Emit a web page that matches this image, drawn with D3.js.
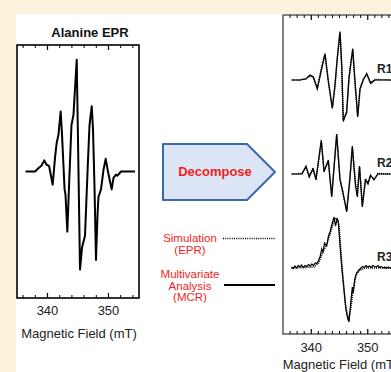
<!DOCTYPE html>
<html>
<head>
<meta charset="utf-8">
<script src="https://cdn.jsdelivr.net/npm/d3@7"></script>
<style>
html, body { margin: 0; padding: 0; background: #fdf3dc; }
svg { display: block; font-family: Arial, "Liberation Sans", sans-serif; }
</style>
</head>
<body>
<div id="container"></div>
<script>
// left panel: alanine EPR spectrum (field in mT, relative signal)
const alanineField = [336.4, 337.95, 338.6, 339.0, 339.48, 339.84, 340.25, 340.85, 341.23, 341.5, 341.8, 342.16, 342.38, 342.8, 342.95, 343.25, 343.6, 343.93, 344.26, 344.79, 345.0, 345.33, 345.66, 346.15, 346.64, 346.89, 347.25, 347.46, 347.7, 347.95, 348.2, 348.36, 348.77, 349.18, 349.54, 349.92, 350.52, 350.82, 351.23, 351.48, 352.05, 354.34]
const alanineSignal = [0, 0, 0.035, 0.054, 0.106, 0.064, 0.054, -0.126, 0.13, 0.27, 0.35, 0.57, 0.35, -0.17, -0.22, -0.57, -0.03, 0.44, 0.54, 1.06, 0.30, -0.93, -0.72, -0.61, 0.11, 0.44, 0.62, 0.40, -0.13, -0.84, -0.41, -0.24, -0.17, 0.016, 0.12, -0.003, -0.17, -0.06, -0.03, -0.04, 0, 0]

// right panel: decomposed components R1..R3
const r1Field = [336.54, 338.0, 339.07, 339.78, 340.36, 341.07, 341.85, 342.43, 343.02, 343.73, 344.2, 344.61, 345.09, 345.39, 345.67, 346.27, 346.68, 346.98, 347.34, 347.74, 348.22, 348.63, 349.21, 349.81, 350.52, 351.28, 354.11]
const r1Mcr = [0, 0, 0.02, 0.10, 0.066, -0.18, 0.23, 0.53, -0.03, -0.57, -0.10, 0.43, 0.97, 0.30, -0.83, -0.63, 0.03, 0.30, 0.63, -0.03, -0.74, -0.17, 0, 0.13, -0.07, 0, 0]
const r1Sim = [0, 0, 0.03, 0.08, 0.05, -0.16, 0.26, 0.50, -0.01, -0.55, -0.13, 0.46, 0.95, 0.27, -0.80, -0.66, 0.06, 0.33, 0.60, -0.05, -0.72, -0.20, 0.02, 0.11, -0.05, 0.01, 0]

const r2Field = [336.54, 338.36, 339.07, 339.65, 340.31, 340.84, 341.78, 342.26, 343.02, 343.62, 344.5, 345.09, 345.53, 346.27, 346.86, 347.27, 347.83, 348.15, 348.54, 349.04, 349.6, 350.04, 350.49, 351.1, 351.81, 354.11]
const r2Mcr = [0, 0, 0.16, -0.06, 0.10, -0.10, 0.68, 0.04, 0.28, -0.46, 0.80, -0.12, -0.32, -0.76, -0.08, 0.56, -0.22, -0.46, 0.16, -0.66, -0.12, -0.20, -0.02, -0.12, 0, 0]
const r2Sim = [0, 0.01, 0.13, -0.04, 0.12, -0.12, 0.65, 0.07, 0.25, -0.44, 0.78, -0.10, -0.35, -0.73, -0.05, 0.53, -0.20, -0.43, 0.14, -0.63, -0.10, -0.18, -0.04, -0.10, 0.01, 0]

const r3Field = [336.5, 336.8, 337.1, 337.4, 337.7, 338.0, 338.3, 338.6, 338.9, 339.2, 339.5, 339.8, 340.1, 340.4, 340.7, 341.0, 341.25, 341.55, 341.85, 342.08, 342.35, 342.73, 343.05, 343.32, 343.67, 344.03, 344.29, 344.56, 344.79, 345.09, 345.44, 345.8, 346.15, 346.45, 346.68, 347.04, 347.27, 347.44, 347.71, 348.01, 348.45, 348.8, 349.1, 349.4, 349.7, 350.0, 350.3, 350.6, 350.9, 351.2, 351.5, 351.8, 352.1, 352.4, 352.7, 353.0, 353.3, 353.6, 353.9, 354.1]
const r3Mcr = [0.02, -0.01, 0.04, 0.0, 0.05, 0.02, 0.06, 0.01, 0.05, 0.03, 0.07, 0.04, 0.08, 0.05, 0.10, 0.09, 0.14, 0.22, 0.38, 0.32, 0.50, 0.44, 0.64, 0.72, 0.88, 1.02, 0.84, 0.98, 0.94, 0.46, -0.04, -0.44, -0.84, -1.0, -1.08, -0.64, -0.38, -0.50, -0.22, -0.10, -0.04, 0.0, 0.03, 0.01, 0.05, 0.02, 0.04, 0.01, 0.05, 0.03, 0.02, 0.05, 0.01, 0.03, 0.0, 0.02, -0.01, 0.02, 0.0, 0.01]
const r3SimField = [336.5, 340.5, 341.3, 342.0, 342.8, 343.4, 344.0, 344.5, 344.9, 345.4, 346.0, 346.6, 347.0, 347.4, 347.9, 348.5, 349.5, 354.1]
const r3Sim = [0, 0.02, 0.10, 0.30, 0.50, 0.70, 0.95, 1.0, 0.85, 0.10, -0.70, -1.05, -0.80, -0.45, -0.15, -0.05, 0, 0]

const offsets = { R1: 3.76, R2: 1.88, R3: 0 }
const majorTicks = [340, 350]
const tickLabels = ['340', '350']

const W = 391, H = 372
const red = '#f21d1d'

let svg = d3.select('#container')
  .append('svg')
  .attr('width', W)
  .attr('height', H)

// white sheet
svg.append('rect')
  .attr('x', 16).attr('y', 14)
  .attr('width', W - 16).attr('height', H - 14)
  .style('fill', '#fff')

// ---------- left panel ----------
const xL = d3.scaleLinear().domain([335, 355]).range([17, 139])
const yL = d3.scaleLinear().domain([-1.2, 1.2]).range([298, 45])

let left = svg.append('g')

left.append('rect')
  .attr('x', 17).attr('y', 45)
  .attr('width', 122).attr('height', 253)
  .style('fill', 'none')
  .style('stroke', '#000')
  .style('stroke-width', 1.6)

function drawTicks(g, x, top, bottom, minor, major, labelY) {
  minor.forEach(v => {
    g.append('line').attr('x1', x(v)).attr('x2', x(v)).attr('y1', top).attr('y2', top + 3)
      .style('stroke', '#000').style('stroke-width', 1)
    g.append('line').attr('x1', x(v)).attr('x2', x(v)).attr('y1', bottom).attr('y2', bottom - 3)
      .style('stroke', '#000').style('stroke-width', 1)
  })
  major.forEach((v, i) => {
    g.append('line').attr('x1', x(v)).attr('x2', x(v)).attr('y1', top).attr('y2', top + 5)
      .style('stroke', '#000').style('stroke-width', 1.2)
    g.append('line').attr('x1', x(v)).attr('x2', x(v)).attr('y1', bottom).attr('y2', bottom - 5)
      .style('stroke', '#000').style('stroke-width', 1.2)
    g.append('text')
      .attr('x', x(v)).attr('y', labelY)
      .attr('text-anchor', 'middle')
      .style('font-size', '13px')
      .style('fill', '#222')
      .text(tickLabels[i])
  })
}

drawTicks(left, xL, 45, 298, [336, 338, 342, 344, 346, 348, 352, 354], majorTicks, 315)

left.append('text')
  .attr('x', 90).attr('y', 37)
  .attr('text-anchor', 'middle')
  .style('font-size', '13px')
  .style('font-weight', 'bold')
  .style('fill', '#111')
  .text('Alanine EPR')

left.append('text')
  .attr('x', 79).attr('y', 338)
  .attr('text-anchor', 'middle')
  .style('font-size', '13px')
  .style('fill', '#222')
  .text('Magnetic Field (mT)')

let lineL = d3.line().x(d => xL(d[0])).y(d => yL(d[1]))
left.append('path')
  .attr('d', lineL(d3.zip(alanineField, alanineSignal)))
  .style('fill', 'none')
  .style('stroke', '#000')
  .style('stroke-width', 2)
  .style('stroke-linejoin', 'round')

// ---------- middle: arrow + legend ----------
let mid = svg.append('g')
let p = d3.path()
p.moveTo(163, 144)
p.lineTo(247, 144)
p.lineTo(275, 172)
p.lineTo(247, 200)
p.lineTo(163, 200)
p.closePath()
mid.append('path')
  .attr('d', p)
  .style('fill', '#dbe5f6')
  .style('stroke', '#3c69ad')
  .style('stroke-width', 2)
  .style('stroke-linejoin', 'round')

mid.append('text')
  .attr('x', 215).attr('y', 176)
  .attr('text-anchor', 'middle')
  .style('font-size', '13px')
  .style('font-weight', 'bold')
  .style('fill', red)
  .text('Decompose')

const legendText = [
  { lines: ['Simulation', '(EPR)'], y: 242, step: 12 },
  { lines: ['Multivariate', 'Analysis', '(MCR)'], y: 278, step: 11.5 }
]
legendText.forEach(t => {
  t.lines.forEach((s, i) => {
    mid.append('text')
      .attr('x', 190).attr('y', t.y + i * t.step)
      .attr('text-anchor', 'middle')
      .style('font-size', '11.5px')
      .style('fill', red)
      .text(s)
  })
})

mid.append('line')
  .attr('x1', 223).attr('x2', 275).attr('y1', 238.5).attr('y2', 238.5)
  .style('stroke', '#000').style('stroke-width', 1.5)
  .style('stroke-dasharray', '1,1.2')
mid.append('line')
  .attr('x1', 224).attr('x2', 275).attr('y1', 285).attr('y2', 285)
  .style('stroke', '#000').style('stroke-width', 2)

// ---------- right panel ----------
const xR = d3.scaleLinear().domain([335, 357]).range([283, 407.3])
const yR = d3.scaleLinear().domain([-1.32, 5.06]).range([334, 15])

let right = svg.append('g')
right.append('rect')
  .attr('x', 283).attr('y', 15)
  .attr('width', 130).attr('height', 319)
  .style('fill', 'none')
  .style('stroke', '#333')
  .style('stroke-width', 1.2)

const rightMinor = [336.25, 337.5, 338.75, 341.25, 342.5, 343.75, 345, 346.25, 347.5, 348.75, 351.25, 352.5, 353.75, 355, 356.25]
drawTicks(right, xR, 15, 334, rightMinor, majorTicks, 352)

right.append('text')
  .attr('x', 340.5).attr('y', 369)
  .attr('text-anchor', 'middle')
  .style('font-size', '13px')
  .style('fill', '#222')
  .text('Magnetic Field (mT)')

const traces = [
  { name: 'R1', field: r1Field, mcr: r1Mcr, simField: r1Field, sim: r1Sim },
  { name: 'R2', field: r2Field, mcr: r2Mcr, simField: r2Field, sim: r2Sim },
  { name: 'R3', field: r3Field, mcr: r3Mcr, simField: r3SimField, sim: r3Sim }
]

traces.forEach(t => {
  let off = offsets[t.name]
  let line = d3.line().x(d => xR(d[0])).y(d => yR(d[1] + off))
  right.append('path')
    .attr('d', line(d3.zip(t.field, t.mcr)))
    .style('fill', 'none')
    .style('stroke', '#000')
    .style('stroke-width', 1.2)
  right.append('path')
    .attr('d', line(d3.zip(t.simField, t.sim)))
    .style('fill', 'none')
    .style('stroke', '#000')
    .style('stroke-width', 1.6)
    .style('stroke-dasharray', '1,1')
  right.append('text')
    .attr('x', 377).attr('y', yR(off) - 7)
    .style('font-size', '12px')
    .style('font-weight', 'bold')
    .style('fill', '#222')
    .text(t.name)
})
</script>
</body>
</html>
